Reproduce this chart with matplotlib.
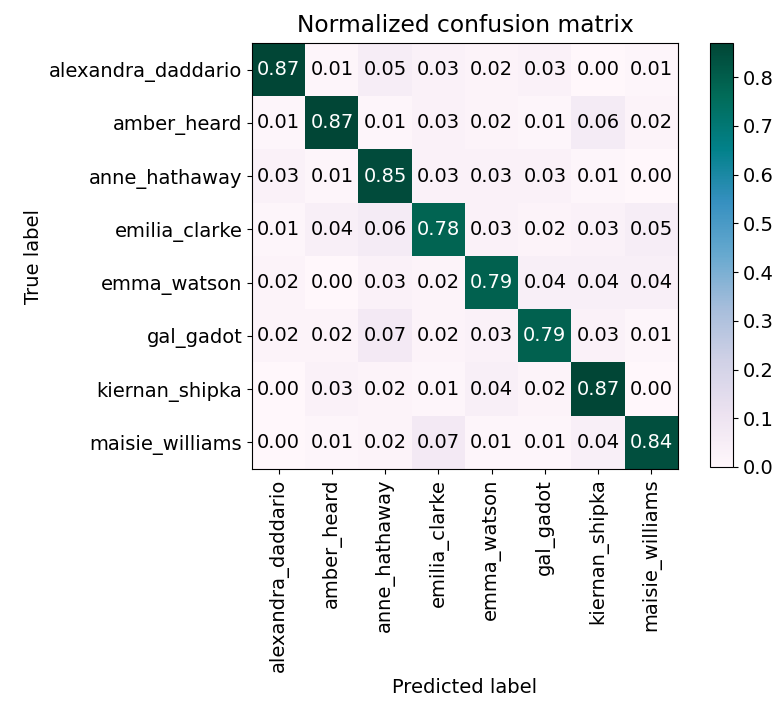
import numpy as np
import matplotlib
matplotlib.use("Agg")
import matplotlib.pyplot as plt

classes = ["alexandra_daddario", "amber_heard", "anne_hathaway", "emilia_clarke",
           "emma_watson", "gal_gadot", "kiernan_shipka", "maisie_williams"]

row_alexandra = [0.87, 0.01, 0.05, 0.03, 0.02, 0.03, 0.00, 0.01]
row_amber     = [0.01, 0.87, 0.01, 0.03, 0.02, 0.01, 0.06, 0.02]
row_anne      = [0.03, 0.01, 0.85, 0.03, 0.03, 0.03, 0.01, 0.00]
row_emilia    = [0.01, 0.04, 0.06, 0.78, 0.03, 0.02, 0.03, 0.05]
row_emma      = [0.02, 0.00, 0.03, 0.02, 0.79, 0.04, 0.04, 0.04]
row_gal       = [0.02, 0.02, 0.07, 0.02, 0.03, 0.79, 0.03, 0.01]
row_kiernan   = [0.00, 0.03, 0.02, 0.01, 0.04, 0.02, 0.87, 0.00]
row_maisie    = [0.00, 0.01, 0.02, 0.07, 0.01, 0.01, 0.04, 0.84]

cm = np.array([row_alexandra, row_amber, row_anne, row_emilia,
               row_emma, row_gal, row_kiernan, row_maisie])

plt.rcParams["font.size"] = 14

fig = plt.figure(figsize=(7.77, 7.04), dpi=100)
ax = fig.add_axes([252/777, 1 - 469/704, 426/777, 426/704])
im = ax.imshow(cm, interpolation="nearest", cmap=plt.cm.PuBuGn, aspect="auto")
ax.set_title("Normalized confusion matrix", fontsize=16.8, pad=8)

cax = fig.add_axes([710/777, 1 - 467/704, 23/777, 424/704])
cb = fig.colorbar(im, cax=cax)
cb.set_ticks([0.0, 0.1, 0.2, 0.3, 0.4, 0.5, 0.6, 0.7, 0.8])
cb.ax.tick_params(labelsize=14)

ticks = np.arange(len(classes))
ax.set_xticks(ticks)
ax.set_xticklabels(classes, rotation=90, fontsize=14)
ax.set_yticks(ticks)
ax.set_yticklabels(classes, fontsize=14)

thresh = cm.max() / 2.0
for i in range(cm.shape[0]):
    for j in range(cm.shape[1]):
        ax.text(j, i, format(cm[i, j], ".2f"), ha="center", va="center",
                fontsize=14, color="white" if cm[i, j] > thresh else "black")

ax.set_ylabel("True label", fontsize=14)
ax.set_xlabel("Predicted label", fontsize=14)

fig.savefig("out.png", dpi=100)
